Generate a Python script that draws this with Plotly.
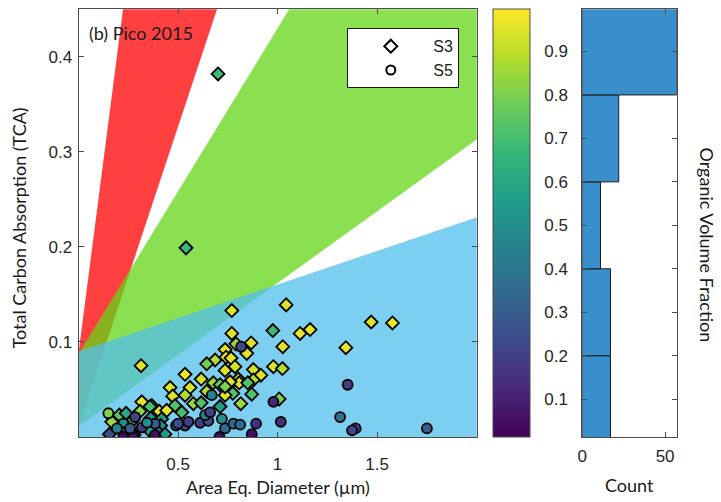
import plotly.graph_objects as go

W, H = 721, 502

# ---------------- data ----------------
# S3 particles (diamonds): area-eq. diameter (um), TCA, organic volume fraction
s3_diam = [0.701, 0.540, 0.770, 1.043, 0.976, 0.770, 0.867, 0.791, 0.845, 1.026,
           0.736, 0.314, 0.686, 0.741, 0.766, 0.644, 0.786, 0.736, 0.878, 0.979,
           1.024, 0.916, 0.535, 0.616, 0.803, 0.878, 0.460, 0.560, 0.677, 0.711,
           0.753, 0.807, 0.850, 0.644, 0.775, 0.870, 0.473, 0.535, 0.736, 0.815,
           1.008, 0.318, 0.368, 0.577, 0.616, 0.485, 0.711, 0.406, 0.443, 0.519,
           0.359, 0.205, 0.167, 0.239, 0.363, 0.418, 0.275, 0.309, 0.413, 0.356,
           0.401, 0.435, 0.155, 0.279, 1.470, 1.577, 1.113, 1.163, 1.343, 0.761,
           0.736]
s3_tca = [0.382, 0.199, 0.133, 0.139, 0.112, 0.109, 0.099, 0.098, 0.088, 0.095,
          0.092, 0.075, 0.081, 0.084, 0.083, 0.077, 0.074, 0.070, 0.071, 0.074,
          0.072, 0.065, 0.066, 0.061, 0.061, 0.060, 0.052, 0.052, 0.057, 0.055,
          0.054, 0.057, 0.057, 0.048, 0.046, 0.045, 0.043, 0.044, 0.044, 0.035,
          0.040, 0.037, 0.033, 0.035, 0.036, 0.033, 0.032, 0.027, 0.028, 0.026,
          0.032, 0.023, 0.016, 0.025, 0.020, 0.019, 0.018, 0.027, 0.012, 0.007,
          0.005, 0.003, 0.003, 0.002, 0.121, 0.120, 0.109, 0.113, 0.094, 0.058,
          0.053]
s3_ovf = [0.68, 0.68, 0.95, 0.95, 0.68, 0.95, 0.95, 0.85, 0.95, 0.95,
          0.96, 0.95, 0.88, 0.97, 0.96, 0.78, 0.93, 0.95, 0.93, 0.95,
          0.88, 0.95, 0.97, 0.93, 0.93, 0.88, 0.95, 0.95, 0.85, 0.75,
          0.95, 0.95, 0.72, 0.88, 0.72, 0.72, 0.95, 0.88, 0.95, 0.85,
          0.80, 0.95, 0.85, 0.85, 0.72, 0.72, 0.55, 0.95, 0.95, 0.70,
          0.70, 0.75, 0.85, 0.60, 0.55, 0.55, 0.70, 0.82, 0.50, 0.55,
          0.35, 0.55, 0.25, 0.22, 0.96, 0.96, 0.96, 0.96, 0.96, 0.95,
          0.80]

# S5 particles (circles)
s5_diam = [0.150, 0.669, 0.817, 0.979, 0.490, 0.535, 0.552, 0.611, 0.652, 0.720,
           0.636, 0.661, 0.736, 0.778, 0.708, 0.870, 0.892, 1.016, 1.352, 1.314,
           1.392, 1.374, 1.750, 0.284, 0.225, 0.318, 0.384, 0.225, 0.225, 0.274,
           0.259, 0.812, 0.193, 0.344, 0.500, 0.384]
s5_tca = [0.025, 0.044, 0.095, 0.037, 0.012, 0.012, 0.016, 0.015, 0.017, 0.019,
          0.023, 0.026, 0.009, 0.014, 0.000, 0.003, 0.014, 0.016, 0.055, 0.021,
          0.009, 0.007, 0.009, 0.021, 0.014, 0.010, 0.014, 0.005, 0.000, 0.000,
          0.009, 0.013, 0.009, 0.015, 0.014, 0.002]
s5_ovf = [0.80, 0.45, 0.25, 0.12, 0.38, 0.25, 0.20, 0.20, 0.25, 0.50,
          0.45, 0.22, 0.35, 0.35, 0.05, 0.05, 0.15, 0.15, 0.20, 0.38,
          0.20, 0.22, 0.30, 0.22, 0.50, 0.20, 0.30, 0.20, 0.03, 0.05,
          0.30, 0.35, 0.45, 0.50, 0.25, 0.05]

# TCA regimes: lower / upper boundary lines (intercept, slope)
region_names = ["red", "green", "blue"]
region_low_b = [0.011, 0.011, -0.05]
region_low_k = [0.631, 0.151, 0.0]
region_up_b = [0.088, 0.087, 0.090]
region_up_k = [1.62, 0.343, 0.0705]
region_colors = ["rgba(255,0,0,0.75)", "rgba(99,213,21,0.75)", "rgba(81,191,236,0.75)"]

# histogram of organic volume fraction
hist_bin_centers = [0.1, 0.3, 0.5, 0.7, 0.9]
hist_counts = [17, 17, 11, 22, 57]

x_ticks = [0.5, 1, 1.5]
x_ticktext = ["0.5", "1", "1.5"]
y_ticks = [0.1, 0.2, 0.3, 0.4]
y_ticktext = ["0.1", "0.2", "0.3", "0.4"]
ovf_ticks = [0.1, 0.2, 0.3, 0.4, 0.5, 0.6, 0.7, 0.8, 0.9]
ovf_ticktext = ["0.1", "0.2", "0.3", "0.4", "0.5", "0.6", "0.7", "0.8", "0.9"]
count_ticks = [0, 50]

# ---------------- layout geometry (px) ----------------
main_l, main_r = 78.5, 476.7
top, bot = 9.3, 437.0
cb_l, cb_w = 492.7, 36.6
hist_l, hist_r = 582.3, 676.7

def fx(p):
    return p / W

def fy(p):
    return 1 - p / H

tick_font = dict(family="Liberation Sans, Arial", size=17, color="#262626")
title_font = dict(family="Lato, Noto Sans", size=18, color="#1a1a1a")
axcol = "#4d4d4d"

fig = go.Figure()

# regime polygons
XE = 2.6
for i, name in enumerate(region_names):
    xs = [0, XE, XE, 0]
    ys = [region_low_b[i], region_low_b[i] + region_low_k[i] * XE,
          region_up_b[i] + region_up_k[i] * XE, region_up_b[i]]
    fig.add_trace(go.Scatter(x=xs, y=ys, mode="lines", fill="toself",
                             fillcolor=region_colors[i], line=dict(width=0),
                             hoverinfo="skip", showlegend=False, name=name))

fig.add_trace(go.Scatter(
    x=s3_diam, y=s3_tca, mode="markers", name="S3", showlegend=False,
    marker=dict(symbol="diamond", size=10, color=s3_ovf, coloraxis="coloraxis",
                line=dict(color="black", width=1.8))))
fig.add_trace(go.Scatter(
    x=s5_diam, y=s5_tca, mode="markers", name="S5", showlegend=False,
    marker=dict(symbol="circle", size=10, color=s5_ovf, coloraxis="coloraxis",
                line=dict(color="black", width=1.8))))

# legend entries
fig.add_trace(go.Scatter(x=[None], y=[None], mode="markers", name="S3",
                         marker=dict(symbol="diamond-open", size=10, color="black",
                                     line=dict(width=2))))
fig.add_trace(go.Scatter(x=[None], y=[None], mode="markers", name="S5",
                         marker=dict(symbol="circle-open", size=9, color="black",
                                     line=dict(width=2))))

# histogram
fig.add_trace(go.Bar(x=hist_counts, y=hist_bin_centers, orientation="h", width=0.2,
                     marker=dict(color="rgb(56,143,204)", line=dict(color="#1a1a1a", width=1)),
                     xaxis="x2", yaxis="y2", showlegend=False, hoverinfo="skip"))

ydom = [fy(bot), fy(top)]

fig.update_layout(
    width=W, height=H,
    margin=dict(l=0, r=0, t=0, b=0),
    paper_bgcolor="white", plot_bgcolor="white",
    xaxis=dict(domain=[fx(main_l), fx(main_r)], range=[0, 2], tickvals=x_ticks,
               ticktext=x_ticktext, ticks="inside", ticklen=5, tickcolor=axcol,
               mirror="ticks", showline=True, linecolor=axcol, linewidth=1,
               showgrid=False, zeroline=False, tickfont=tick_font,
               ticklabelstandoff=12, automargin=False),
    yaxis=dict(domain=ydom, range=[0, 0.45], tickvals=y_ticks, ticktext=y_ticktext,
               ticks="inside", ticklen=5, tickcolor=axcol, mirror="ticks",
               showline=True, linecolor=axcol, linewidth=1, showgrid=False,
               zeroline=False, tickfont=tick_font, ticklabelstandoff=2,
               automargin=False),
    xaxis2=dict(domain=[fx(hist_l), fx(hist_r)], range=[0, 57], tickvals=count_ticks,
                ticks="inside", ticklen=5, tickcolor=axcol, mirror="ticks",
                showline=True, linecolor=axcol, linewidth=1, showgrid=False,
                zeroline=False, tickfont=tick_font, anchor="y2",
                ticklabelstandoff=4, automargin=False),
    yaxis2=dict(domain=ydom, range=[0.013, 0.997], tickvals=ovf_ticks,
                ticktext=ovf_ticktext, ticks="inside", ticklen=5, tickcolor=axcol,
                mirror="ticks", showline=True, linecolor=axcol, linewidth=1,
                showgrid=False, zeroline=False, tickfont=tick_font, anchor="x2",
                ticklabelstandoff=10, automargin=False),
    coloraxis=dict(colorscale="Viridis", cmin=0.013, cmax=0.997,
                   colorbar=dict(x=fx(cb_l), xanchor="left", xpad=0, ypad=0,
                                 y=fy(bot), yanchor="bottom", len=(bot - top) / H,
                                 lenmode="fraction", thickness=cb_w,
                                 thicknessmode="pixels", outlinewidth=1,
                                 outlinecolor=axcol, showticklabels=False, ticks="")),
    showlegend=True,
    legend=dict(x=fx(347.3), y=fy(28.3), xanchor="left", yanchor="top",
                bgcolor="white", bordercolor="#1a1a1a", borderwidth=1,
                font=dict(family="Liberation Sans, Arial", size=16, color="#1a1a1a"),
                itemwidth=75, tracegroupgap=0),
    annotations=[
        dict(text="(b) Pico 2015", x=fx(87), y=fy(33), xref="paper", yref="paper",
             xanchor="left", yanchor="middle", showarrow=False, font=title_font),
        dict(text="Area Eq. Diameter (µm)", x=fx((main_l + main_r) / 2), y=fy(487),
             xref="paper", yref="paper", xanchor="center", yanchor="middle",
             showarrow=False, font=title_font),
        dict(text="Total Carbon Absorption (TCA)", x=fx(18.5), y=fy(228),
             xref="paper", yref="paper", xanchor="center", yanchor="middle",
             textangle=-90, showarrow=False, font=title_font),
        dict(text="Count", x=fx((hist_l + hist_r) / 2), y=fy(485), xref="paper",
             yref="paper", xanchor="center", yanchor="middle", showarrow=False,
             font=title_font),
        dict(text="Organic Volume Fraction", x=fx(707), y=fy(244.5), xref="paper",
             yref="paper", xanchor="center", yanchor="middle", textangle=90,
             showarrow=False, font=title_font),
    ],
)

fig.write_html("out.html", config={"displayModeBar": False},
               post_script="document.body.style.margin='0';document.body.style.overflow='hidden';")
